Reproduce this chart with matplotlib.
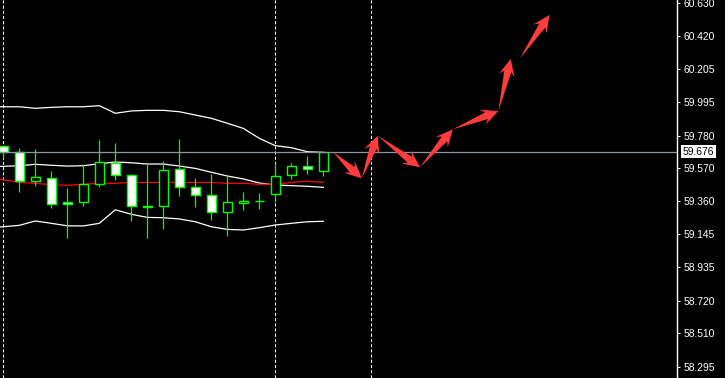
import numpy as np
import matplotlib
matplotlib.use("Agg")
import matplotlib.pyplot as plt
from matplotlib.patches import Rectangle, Polygon
from matplotlib.transforms import IdentityTransform, blended_transform_factory

# --- candles, bar index 0..20 ---
opens = [59.713, 59.672, 59.486, 59.505, 59.353, 59.351, 59.467, 59.602, 59.524, 59.319, 59.325,
         59.563, 59.447, 59.396, 59.287, 59.344, 59.359, 59.406, 59.524, 59.584, 59.554]
highs = [59.719, 59.698, 59.693, 59.552, 59.441, 59.597, 59.751, 59.732, 59.531, 59.602, 59.616,
         59.758, 59.505, 59.533, 59.526, 59.417, 59.411, 59.602, 59.603, 59.648, 59.676]
lows = [59.634, 59.419, 59.458, 59.316, 59.120, 59.329, 59.451, 59.492, 59.233, 59.120, 59.177,
        59.393, 59.323, 59.239, 59.136, 59.301, 59.308, 59.355, 59.503, 59.535, 59.522]
closes = [59.676, 59.488, 59.512, 59.340, 59.338, 59.467, 59.608, 59.524, 59.325, 59.325, 59.557,
          59.447, 59.396, 59.287, 59.351, 59.357, 59.359, 59.518, 59.584, 59.563, 59.676]

# --- bollinger bands + moving average, bar index -1..20 ---
band_x = list(range(-1, 21))
upper_band = [59.965, 59.965, 59.965, 59.955, 59.961, 59.965, 59.965, 59.972, 59.923, 59.938, 59.942,
              59.942, 59.933, 59.912, 59.891, 59.859, 59.826, 59.762, 59.715, 59.702, 59.676, 59.672]
middle_band = [59.580, 59.582, 59.586, 59.595, 59.589, 59.584, 59.586, 59.599, 59.610, 59.605, 59.597,
               59.597, 59.584, 59.569, 59.544, 59.520, 59.501, 59.475, 59.462, 59.458, 59.454, 59.447]
lower_band = [59.190, 59.194, 59.203, 59.231, 59.216, 59.200, 59.199, 59.216, 59.303, 59.274, 59.254,
              59.252, 59.244, 59.226, 59.194, 59.177, 59.173, 59.188, 59.205, 59.216, 59.226, 59.229]
red_ma = [59.507, 59.496, 59.479, 59.473, 59.464, 59.460, 59.467, 59.473, 59.473, 59.479, 59.479,
          59.479, 59.479, 59.479, 59.479, 59.473, 59.473, 59.467, 59.467, 59.479, 59.486, 59.479]

# --- forecast arrows (bar index, price) ---
arrow_x0 = [20.63, 22.40, 23.40, 26.04, 28.09, 30.94, 32.29]
arrow_y0 = [59.672, 59.505, 59.779, 59.576, 59.820, 59.938, 60.276]
arrow_x1 = [22.40, 23.40, 26.04, 28.09, 30.94, 31.71, 34.13]
arrow_y1 = [59.505, 59.779, 59.576, 59.820, 59.938, 60.272, 60.555]

separators = [0, 17, 23]
last_price = 59.676
price_ticks = [58.295, 58.510, 58.720, 58.935, 59.145, 59.360, 59.570,
               59.780, 59.995, 60.205, 60.420, 60.630]

GREEN = "#00ff00"
ARROW_RED = "#ff3c3c"
FONT = ["Liberation Sans", "DejaVu Sans"]

fig = plt.figure(figsize=(7.25, 3.78), dpi=100, facecolor="black")
ax = fig.add_axes([0, 0, 677 / 725, 1])
ax.set_facecolor("black")
ax.set_xlim(-0.206, 42.1)
ax.set_ylim(58.222, 60.651)

# period separators
for s in separators:
    ax.axvline(s, color="white", lw=0.75, ls=(0, (3, 2)), zorder=1)

# bands
ax.plot(band_x, upper_band, color="white", lw=0.9, zorder=2)
ax.plot(band_x, middle_band, color="white", lw=0.9, zorder=2)
ax.plot(band_x, lower_band, color="white", lw=0.9, zorder=2)
ax.plot(band_x, red_ma, color="red", lw=0.9, zorder=2)

# candles
w = 0.56
for i in range(len(opens)):
    o, h, l, c = opens[i], highs[i], lows[i], closes[i]
    ax.vlines(i, l, h, color=GREEN, lw=0.9, zorder=3)
    fc = "white" if c < o else "black"
    ax.add_patch(Rectangle((i - w / 2, min(o, c)), w, abs(c - o),
                           facecolor=fc, edgecolor=GREEN, lw=1.0, zorder=4))

# current price line
ax.axhline(last_price, color="#8a97a6", lw=0.9, zorder=5)


def draw_arrow(x0, y0, x1, y1):
    p0 = ax.transData.transform((x0, y0))
    p1 = ax.transData.transform((x1, y1))
    d = p1 - p0
    u = d / np.hypot(*d)
    n = np.array([-u[1], u[0]])
    head_len, head_w, tail_w = 17.0, 8.0, 3.6
    join = p1 - u * head_len * 0.75
    barb = p1 - u * head_len
    pts = [p0, join + n * tail_w, barb + n * head_w, p1,
           barb - n * head_w, join - n * tail_w]
    ax.add_patch(Polygon(pts, closed=True, facecolor=ARROW_RED, edgecolor="none",
                         transform=IdentityTransform(), zorder=6))


for k in range(len(arrow_x0)):
    draw_arrow(arrow_x0[k], arrow_y0[k], arrow_x1[k], arrow_y1[k])

# axes styling
for side in ["left", "top", "bottom"]:
    ax.spines[side].set_visible(False)
ax.spines["right"].set_color("white")
ax.spines["right"].set_linewidth(1.0)
ax.set_xticks([])
ax.yaxis.tick_right()
ax.set_yticks(price_ticks)
ax.set_yticklabels([f"{t:.3f}" for t in price_ticks])
ax.tick_params(axis="y", colors="white", length=2.5, width=0.75, pad=2.5, labelsize=7.4)
for lab in ax.get_yticklabels():
    lab.set_family(FONT)

# price label box
trans = blended_transform_factory(ax.transAxes, ax.transData)
ax.annotate(f"{last_price:.3f}", xy=(1.0, last_price), xycoords=trans,
            xytext=(4, 0), textcoords="offset points", ha="left", va="center",
            fontsize=7.4, family=FONT, color="black", annotation_clip=False, zorder=10,
            bbox=dict(boxstyle="square,pad=0.15", facecolor="white", edgecolor="none"))

fig.savefig("out.png", dpi=100, facecolor="black")
